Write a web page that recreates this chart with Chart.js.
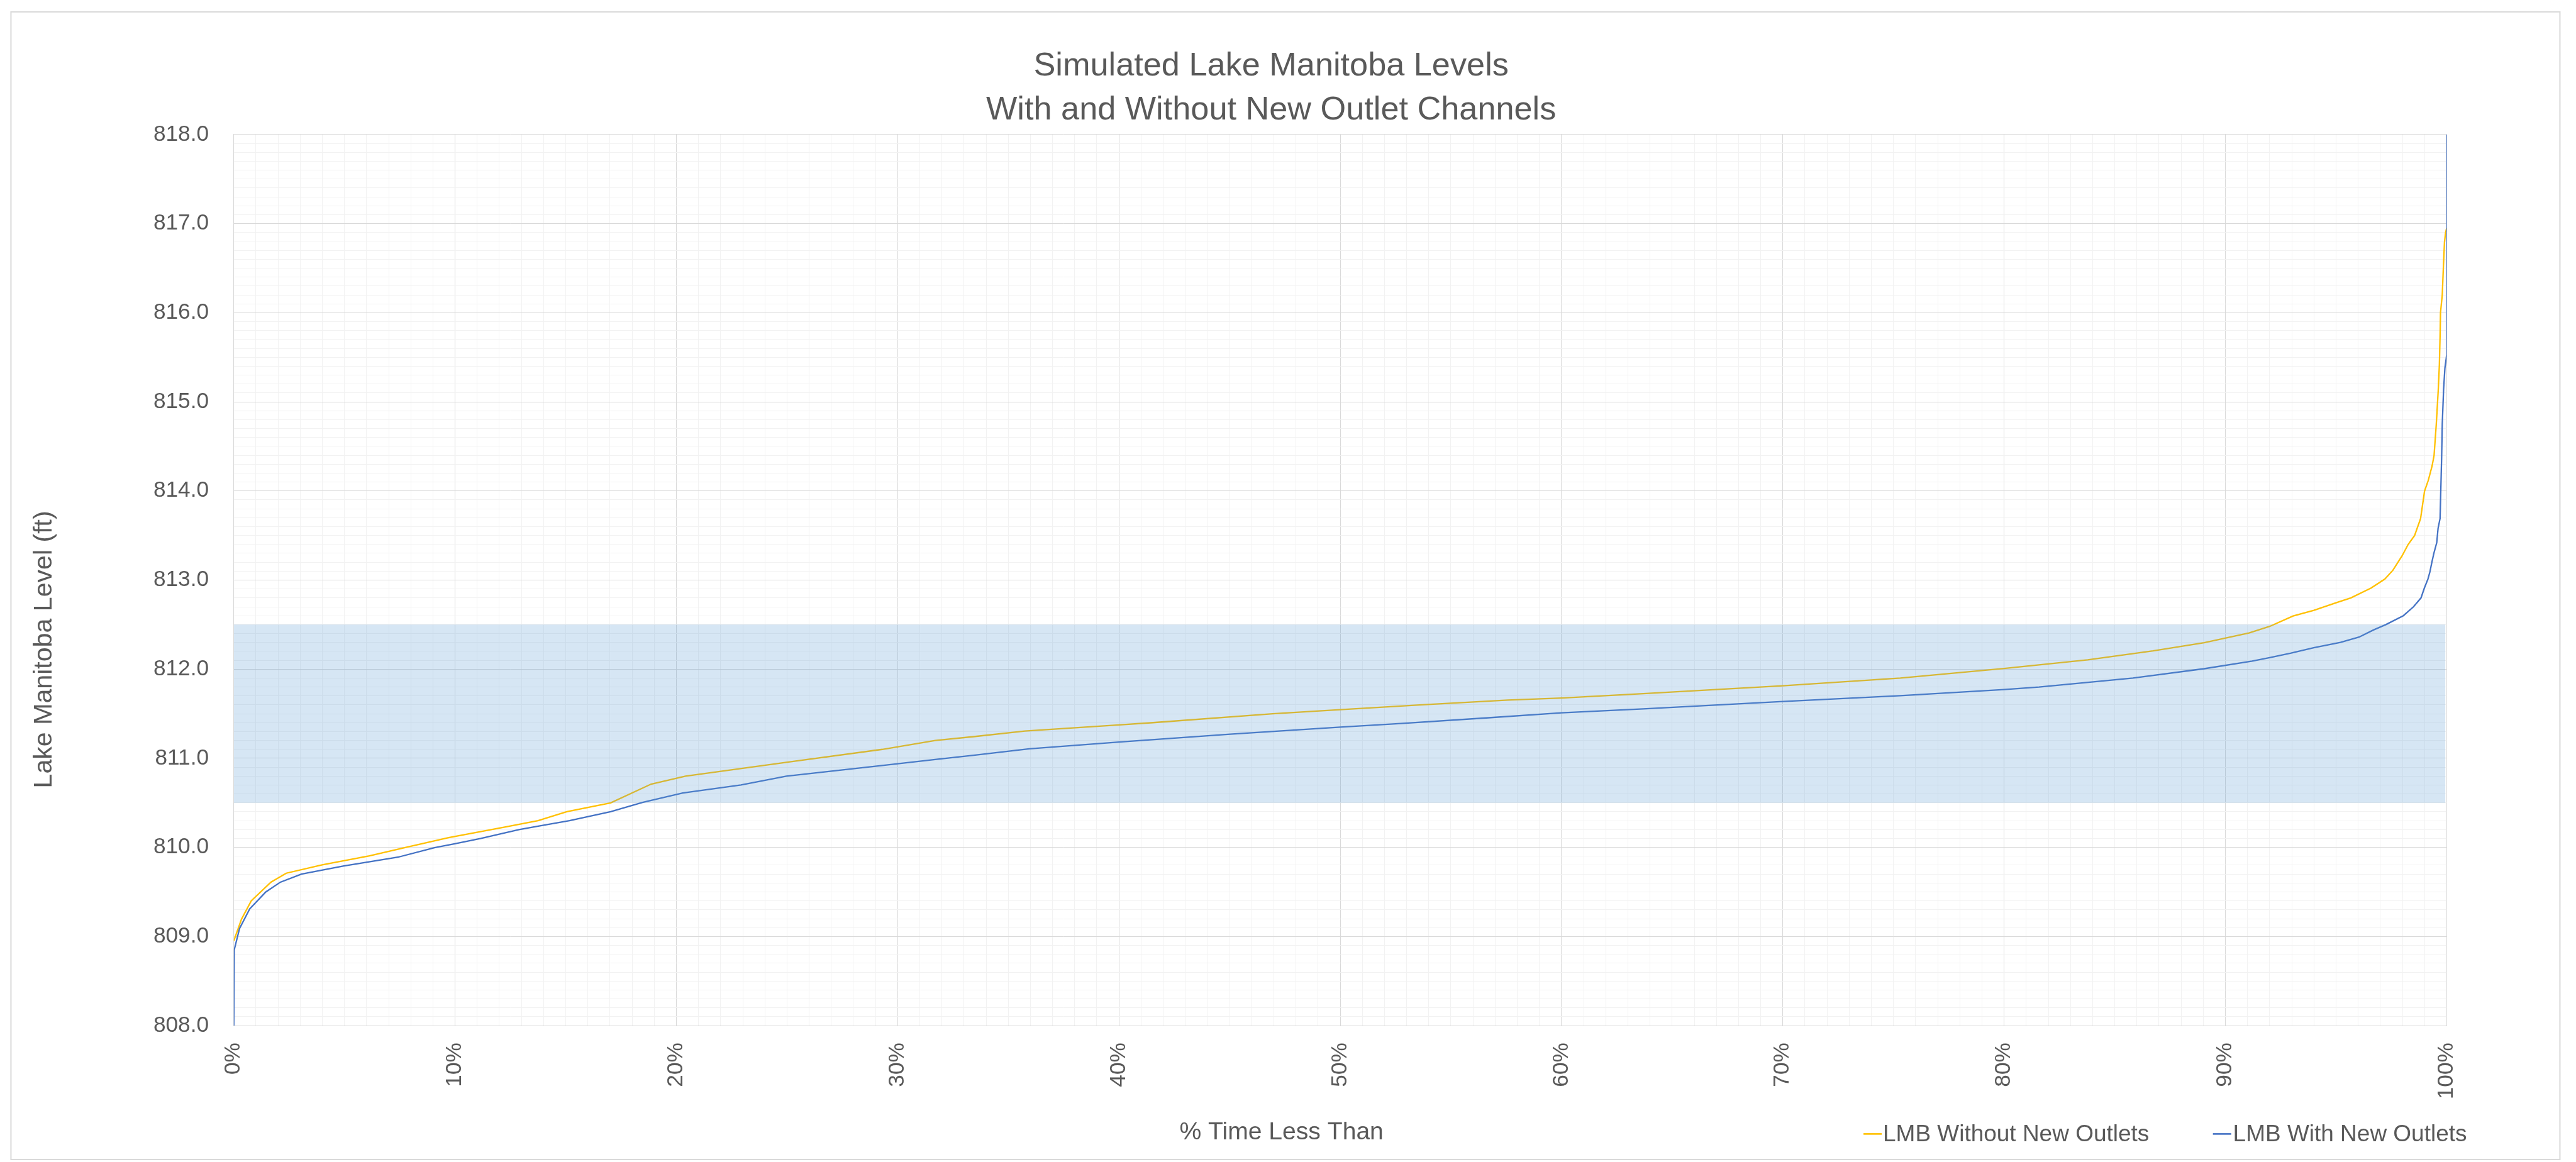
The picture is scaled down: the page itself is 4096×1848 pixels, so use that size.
<!DOCTYPE html>
<html>
<head>
<meta charset="utf-8">
<script src="https://cdn.jsdelivr.net/npm/chart.js@4/dist/chart.umd.min.js"></script>
<style>
html,body{margin:0;padding:0;background:#ffffff;overflow:hidden}
#wrap{position:relative;width:4096px;height:1848px}
</style>
</head>
<body>
<div id="wrap"><canvas id="c" width="4096" height="1848"></canvas></div>
<script>
// ---------- data ----------
const titleLines = ['Simulated Lake Manitoba Levels', 'With and Without New Outlet Channels'];
const xAxisTitle = '% Time Less Than';
const yAxisTitle = 'Lake Manitoba Level (ft)';
const seriesNames = ['LMB Without New Outlets', 'LMB With New Outlets'];
const xTickLabels = ['0%', '10%', '20%', '30%', '40%', '50%', '60%', '70%', '80%', '90%', '100%'];
const yTickLabels = ['808.0', '809.0', '810.0', '811.0', '812.0', '813.0', '814.0', '815.0', '816.0', '817.0', '818.0'];

const withoutPct = [0, 0.35, 0.79, 1.68, 2.37, 4.0, 6.13, 7.78, 9.71, 12.28, 13.75, 15.05, 17.03, 18.86, 20.41, 24.97,
  29.31, 31.7, 33.44, 35.75, 40, 41.54, 46.95, 50, 53.7, 57.57, 60, 63.7, 70, 75.31, 80, 83.78, 86.73, 89.04, 91.07,
  92, 93.06, 94, 95, 95.67, 96.58, 97.2, 97.57, 97.98, 98.26, 98.55, 98.82, 99.0, 99.17, 99.34, 99.43, 99.53, 99.62,
  99.67, 99.7, 99.72, 99.8, 99.85, 99.9, 99.95, 100];
const withoutLevel = [808.95, 809.195, 809.40, 809.61, 809.71, 809.805, 809.905, 810.0, 810.11, 810.23, 810.30, 810.40,
  810.50, 810.71, 810.80, 810.955, 811.10, 811.20, 811.243, 811.305, 811.375, 811.40, 811.50, 811.546, 811.60, 811.653,
  811.676, 811.726, 811.813, 811.90, 812.007, 812.105, 812.205, 812.297, 812.406, 812.48, 812.597, 812.66, 812.745,
  812.80, 812.91, 813.01, 813.11, 813.27, 813.40, 813.50, 813.69, 814.0, 814.12, 814.28, 814.40, 814.75, 815.14,
  815.42, 815.73, 816.0, 816.2, 816.51, 816.79, 816.9, 816.95];

const withPct = [0, 0.02, 0.26, 0.72, 1.45, 2.11, 3.06, 4.94, 7.42, 9.07, 9.99, 11.17, 12.89, 13.8, 15.17, 17.03, 18.47,
  20.29, 22.92, 24.97, 29.31, 31.82, 33.44, 35.95, 40, 45.02, 50, 52.74, 56.6, 60, 63.7, 70, 75.31, 80, 81.58, 85.82,
  89.04, 91.21, 92, 92.97, 93.99, 95.2, 96.04, 96.69, 97.25, 98.04, 98.5, 98.84, 98.99, 99.15, 99.24, 99.33, 99.42,
  99.55, 99.61, 99.7, 99.73, 99.77, 99.8, 99.86, 99.92, 99.98, 100, 100];
const withLevel = [808.0, 808.85, 809.09, 809.31, 809.50, 809.61, 809.70, 809.79, 809.89, 809.997, 810.04, 810.10, 810.20,
  810.24, 810.30, 810.40, 810.505, 810.61, 810.70, 810.80, 810.92, 810.99, 811.034, 811.107, 811.182, 811.27, 811.35,
  811.39, 811.453, 811.51, 811.555, 811.637, 811.703, 811.772, 811.80, 811.90, 812.005, 812.09, 812.13, 812.18, 812.24,
  812.30, 812.36, 812.44, 812.50, 812.60, 812.70, 812.80, 812.91, 813.01, 813.09, 813.2, 813.3, 813.42, 813.58, 813.69,
  813.97, 814.36, 814.75, 815.14, 815.38, 815.49, 815.53, 818.0];

const bandPct = [0, 99.94];
const bandLevel = [810.5, 812.5];

// ---------- rendering ----------
const S = 0.968;
const TEXT = '#595959';
const FONT = '"Liberation Sans", Arial, sans-serif';
const toPts = (xs, ys) => xs.map((x, i) => ({x: x, y: ys[i]}));

const deco = {
  id: 'deco',
  beforeDraw(chart) {
    const c = chart.ctx;
    c.save();
    c.fillStyle = '#ffffff';
    c.fillRect(0, 0, chart.width, chart.height);
    c.strokeStyle = '#D9D9D9';
    c.lineWidth = 2;
    c.strokeRect(18 * S, 19.5 * S, (4205 - 18) * S, (1905 - 19.5) * S);
    c.restore();
  },
  afterDraw(chart) {
    const c = chart.ctx;
    c.save();
    c.fillStyle = TEXT;
    c.textBaseline = 'alphabetic';
    c.textAlign = 'center';
    c.font = (54 * S) + 'px ' + FONT;
    c.fillText(titleLines[0], 2088 * S, 124 * S);
    c.fillText(titleLines[1], 2088 * S, 196 * S);
    c.font = (40.4 * S) + 'px ' + FONT;
    c.fillText(xAxisTitle, 2105 * S, 1872 * S);
    c.save();
    c.translate(85 * S, 1067 * S);
    c.rotate(-Math.PI / 2);
    c.font = (42.5 * S) + 'px ' + FONT;
    c.fillText(yAxisTitle, 0, 0);
    c.restore();
    // legend
    const colors = [chart.data.datasets[0].borderColor, chart.data.datasets[1].borderColor];
    const markerX = [3061, 3635];
    const textX = [3093, 3668];
    c.textAlign = 'left';
    c.font = (38.2 * S) + 'px ' + FONT;
    for (let i = 0; i < 2; i++) {
      c.strokeStyle = colors[i];
      c.lineWidth = 2.6;
      c.beginPath();
      c.moveTo(markerX[i] * S, 1863 * S);
      c.lineTo((markerX[i] + 30) * S, 1863 * S);
      c.stroke();
      c.fillStyle = TEXT;
      c.fillText(seriesNames[i], textX[i] * S, 1875 * S);
    }
    c.restore();
  }
};

const xTicksArr = [];
for (let i = 0; i <= 100; i++) xTicksArr.push({value: i});
const yTicksArr = [];
for (let i = 0; i <= 100; i++) yTicksArr.push({value: 808 + i / 10});

new Chart(document.getElementById('c'), {
  type: 'line',
  data: {
    datasets: [
      {label: seriesNames[0], data: toPts(withoutPct, withoutLevel), borderColor: '#FFC000', borderWidth: 2.3,
        pointRadius: 0, tension: 0, fill: false, order: 2},
      {label: seriesNames[1], data: toPts(withPct, withLevel), borderColor: '#4472C4', borderWidth: 2.3,
        pointRadius: 0, tension: 0, fill: false, order: 1},
      {label: 'band', data: toPts(bandPct, [bandLevel[1], bandLevel[1]]), borderColor: 'rgba(0,0,0,0)', borderWidth: 0,
        pointRadius: 0, tension: 0, fill: {value: bandLevel[0]}, backgroundColor: 'rgba(91,155,213,0.25)', order: 0}
    ]
  },
  options: {
    responsive: false,
    devicePixelRatio: 1,
    animation: false,
    events: [],
    layout: {padding: {left: 0, top: 221 * S, right: 4096 - 4019 * S, bottom: 0}},
    plugins: {legend: {display: false}, tooltip: {enabled: false}, title: {display: false}},
    scales: {
      x: {
        type: 'linear', min: 0, max: 100,
        afterBuildTicks: (axis) => { axis.ticks = xTicksArr.map(t => ({value: t.value})); },
        afterFit: (axis) => { axis.height = 1848 - 1685 * S; },
        ticks: {
          autoSkip: false, minRotation: 90, maxRotation: 90, padding: 28 * S, color: TEXT,
          font: {family: FONT, size: 36.4 * S},
          callback: (v) => { const r = Math.round(v); return (Math.abs(v - r) < 1e-6 && r % 10 === 0) ? xTickLabels[r / 10] : ''; }
        },
        grid: {
          drawTicks: false, lineWidth: 1,
          color: (ctx) => (ctx.tick && Math.round(ctx.tick.value) % 10 === 0) ? '#D9D9D9' : '#F2F2F2'
        },
        border: {display: true, color: '#D9D9D9', width: 1}
      },
      y: {
        type: 'linear', min: 808, max: 818,
        afterBuildTicks: (axis) => { axis.ticks = yTicksArr.map(t => ({value: t.value})); },
        afterFit: (axis) => { axis.width = 384 * S; },
        ticks: {
          autoSkip: false, padding: 41 * S, color: TEXT,
          font: {family: FONT, size: 36.4 * S},
          callback: (v) => { const r = Math.round(v * 10); return (r % 10 === 0) ? yTickLabels[(r - 8080) / 10] : ''; }
        },
        grid: {
          drawTicks: false, lineWidth: 1,
          color: (ctx) => (ctx.tick && Math.round(ctx.tick.value * 10) % 10 === 0) ? '#D9D9D9' : '#F2F2F2'
        },
        border: {display: true, color: '#D9D9D9', width: 1}
      }
    }
  },
  plugins: [deco]
});
</script>
</body>
</html>
